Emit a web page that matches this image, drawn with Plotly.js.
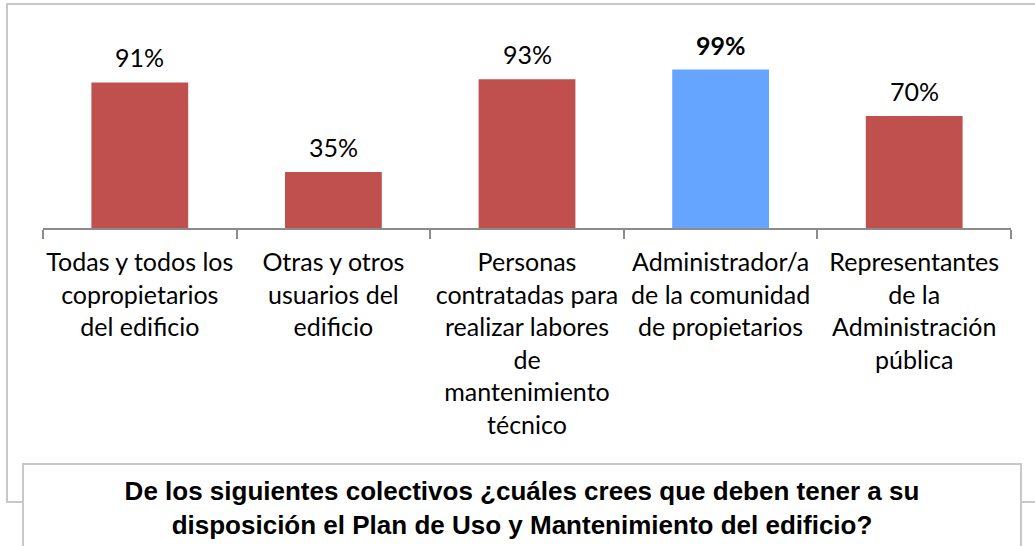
<!DOCTYPE html>
<html>
<head>
<meta charset="utf-8">
<script src="https://cdn.plot.ly/plotly-3.0.1.min.js"></script>
<style>
html,body{margin:0;padding:0;background:#fff;}
#chart{width:1035px;height:546px;}
</style>
</head>
<body>
<div id="chart"></div>
<script>
var categories = [
  "Todas y todos los<br>copropietarios<br>del edificio",
  "Otras y otros<br>usuarios del<br>edificio",
  "Personas<br>contratadas para<br>realizar labores<br>de<br>mantenimiento<br>técnico",
  "Administrador/a<br>de la comunidad<br>de propietarios",
  "Representantes<br>de la<br>Administración<br>pública"
];
var values = [91, 35, 93, 99, 70];
var highlighted = [false, false, false, true, false];
var titleText = "De los siguientes colectivos ¿cuáles crees que deben tener a su<br>disposición el Plan de Uso y Mantenimiento del edificio?";

var W = 1035, H = 546;
var M = {l: 43, r: 24, t: 20, b: 318};
var plotW = W - M.l - M.r, plotH = H - M.t - M.b;
function px2x(p) { return (p - M.l) / plotW; }
function py2y(p) { return (H - M.b - p) / plotH; }

var red = "#C0504D", blue = "#66A5FF";
var colors = highlighted.map(function(h){ return h ? blue : red; });

var trace = {
  type: "bar",
  x: categories,
  y: values,
  marker: {color: colors, line: {width: 0}},
  hoverinfo: "none"
};

var annotations = values.map(function(v, i){
  return {
    x: categories[i], y: v, xref: "x", yref: "y",
    text: highlighted[i] ? "<b>" + v + "%</b>" : v + "%",
    showarrow: false, yanchor: "middle", yshift: 25,
    font: {family: "Lato, 'Open Sans', sans-serif", size: 25, color: "#000"}
  };
});

annotations.push({
  xref: "paper", yref: "paper",
  x: px2x(522), y: py2y(463),
  xanchor: "center", yanchor: "top",
  text: "<b>" + titleText + "</b>",
  showarrow: false,
  align: "center", valign: "top",
  width: 974, height: 170,
  borderpad: 11, borderwidth: 2, bordercolor: "#C8C8C8", bgcolor: "#FFFFFF",
  font: {family: "'Liberation Sans', Arial, sans-serif", size: 26, color: "#000"}
});

var layout = {
  width: W, height: H,
  margin: M,
  paper_bgcolor: "#FFFFFF",
  plot_bgcolor: "#FFFFFF",
  showlegend: false,
  bargap: 0.5,
  xaxis: {
    type: "category",
    showline: true, linecolor: "#8C8C8C", linewidth: 2,
    ticks: "outside", tickson: "boundaries", ticklen: 9, tickwidth: 2, tickcolor: "#8C8C8C",
    tickfont: {family: "Lato, 'Open Sans', sans-serif", size: 25, color: "#000"},
    tickangle: 0,
    ticklabelstandoff: 11,
    showgrid: false, zeroline: false, fixedrange: true
  },
  yaxis: {
    range: [0, 130],
    visible: false, showgrid: false, zeroline: false, fixedrange: true
  },
  shapes: [{
    type: "rect", xref: "paper", yref: "paper",
    x0: px2x(7), x1: px2x(1080), y0: py2y(502), y1: py2y(4),
    line: {color: "#C8C8C8", width: 2}, fillcolor: "rgba(0,0,0,0)", layer: "below"
  }],
  annotations: annotations
};

Plotly.newPlot("chart", [trace], layout, {displayModeBar: false, staticPlot: true});
</script>
</body>
</html>
